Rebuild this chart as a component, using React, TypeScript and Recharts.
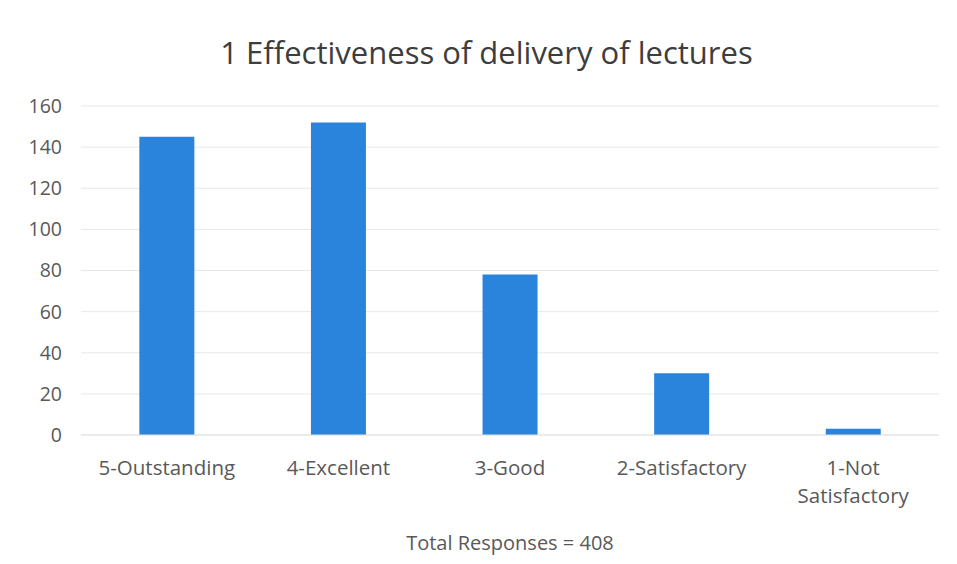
import { BarChart, Bar, XAxis, YAxis, CartesianGrid } from 'recharts';

const categories = ['5-Outstanding', '4-Excellent', '3-Good', '2-Satisfactory', '1-Not Satisfactory'];
const responses = [145, 152, 78, 30, 3];
const yTicks = [0, 20, 40, 60, 80, 100, 120, 140, 160];

const data = categories.map((c, i) => ({ category: c, responses: responses[i] }));

const FONT = '"Open Sans", sans-serif';

const CategoryTick = ({ x, y, payload }: any) => {
    const value: string = payload.value;
    // only the long one breaks over two lines, like the original
    const lines = value.length > 15 ? value.split(' ') : [value];
    return (
        <text x={x} y={y} textAnchor="middle" fill="#595959" fontSize={20.5} fontFamily={FONT}>
            {lines.map((line, i) => (
                <tspan key={i} x={x} dy={i === 0 ? 38 : 28}>
                    {line}
                </tspan>
            ))}
        </text>
    );
};

export default function App() {
    return (
        <div style={{ position: 'absolute', left: 0, top: 0, width: 957, height: 564, background: '#fff' }}>
            <div
                style={{
                    position: 'absolute',
                    left: 0,
                    top: 32,
                    width: 973,
                    textAlign: 'center',
                    fontFamily: FONT,
                    fontSize: 31,
                    color: '#3d3d3d',
                    lineHeight: '40px',
                }}
            >
                1 Effectiveness of delivery of lectures
            </div>
            <BarChart
                width={957}
                height={564}
                data={data}
                margin={{ top: 106, right: 18, bottom: 0, left: 0 }}
                barCategoryGap="34%"
            >
                <CartesianGrid vertical={false} stroke="#e8e8e8" />
                <XAxis
                    dataKey="category"
                    tick={<CategoryTick />}
                    tickLine={false}
                    tickSize={0}
                    axisLine={{ stroke: '#e3e3e3' }}
                    height={129}
                    interval={0}
                    label={{
                        value: 'Total Responses = 408',
                        position: 'insideBottom',
                        offset: 14,
                        fill: '#595959',
                        fontSize: 20,
                        fontFamily: FONT,
                    }}
                />
                <YAxis
                    domain={[0, 160]}
                    ticks={yTicks}
                    width={81}
                    axisLine={false}
                    tickLine={false}
                    tickSize={0}
                    tickMargin={19}
                    tick={{ fill: '#595959', fontSize: 19.5, fontFamily: FONT }}
                />
                <Bar dataKey="responses" fill="#2b84dc" isAnimationActive={false} />
            </BarChart>
        </div>
    );
}
